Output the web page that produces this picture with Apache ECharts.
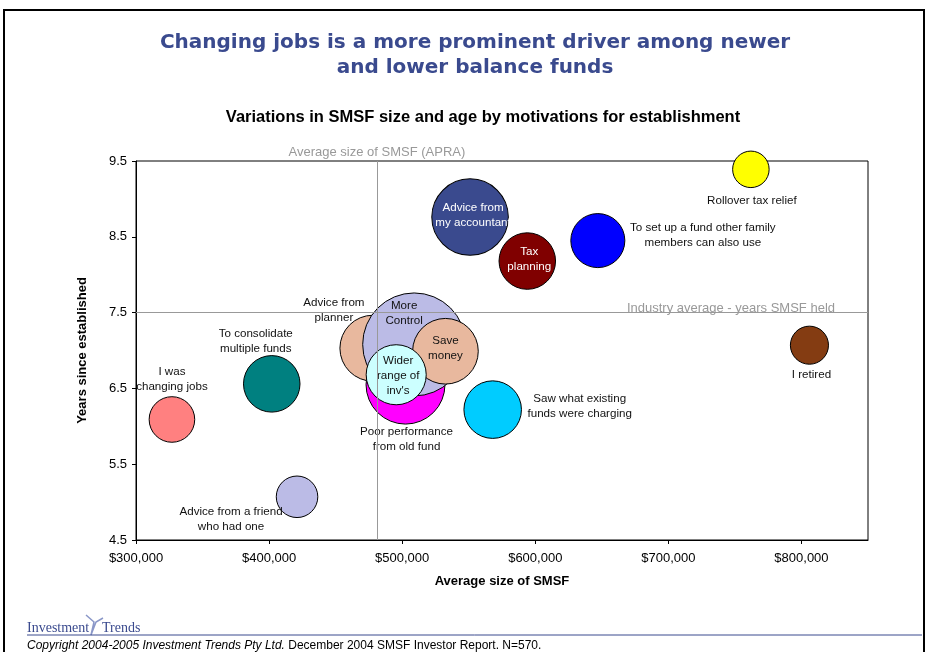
<!DOCTYPE html>
<html>
<head>
<meta charset="utf-8">
<script src="https://cdn.jsdelivr.net/npm/echarts@6/dist/echarts.min.js"></script>
<style>
  html, body { margin: 0; padding: 0; background: #fff; }
  #chart { width: 931px; height: 652px; }
</style>
</head>
<body>
<div id="chart"></div>
<script>
// motivations for establishing the SMSF (drawing order: back to front)
var motivations = [
  'I was\nchanging jobs',
  'To consolidate\nmultiple funds',
  'Advice from a friend\nwho had one',
  'Advice from\nmy accountant',
  'Tax\nplanning',
  'To set up a fund other family\nmembers can also use',
  'Rollover tax relief',
  'I retired',
  'Saw what existing\nfunds were charging',
  'Advice from\nplanner',
  'Poor performance\nfrom old fund',
  'More\nControl',
  'Save\nmoney',
  'Wider\nrange of\ninv\'s'
];
// average SMSF size ($)
var avgSize = [327000, 402000, 421000, 551000, 594000, 647000, 762000, 806000, 568000, 478000, 502500, 509000, 532500, 495500];
// years since established
var yearsHeld = [6.09, 6.56, 5.07, 8.76, 8.18, 8.45, 9.39, 7.07, 6.22, 7.03, 6.55, 7.08, 6.99, 6.68];
// share of respondents (%) -> bubble area
var share = [10.6, 16.3, 8.8, 29.9, 16.3, 14.9, 6.8, 7.4, 16.9, 22.2, 31.8, 54.1, 22.0, 18.4];

var xTicks = { min: 300000, max: 850000, step: 100000 };
var yTicks = { min: 4.5, max: 9.5, step: 1 };
var apraAvgSize = 481000;
var industryAvgYears = 7.5;

// styling
var colors = ['#FF8080', '#008080', '#BBBBE6', '#3A4A8E', '#800000', '#0000FF', '#FFFF00',
              '#843C12', '#00CCFF', '#E8B89E', '#FF00FF', '#BBBBE6', '#E8B89E', '#CCFFFF'];
var labelOffsets = [[0, -40], [-16, -43], [-66, 23], [3, -2], [2, -2], [105, -5], [1, 31],
                    [2, 30], [87, -3], [-39, -38], [1, 55], [-10, -31], [0, -3], [2, 1]];
var whiteLabels = [3, 4];

var data = motivations.map(function (name, i) {
  return {
    name: name,
    value: [avgSize[i], yearsHeld[i], share[i]],
    symbolSize: 14 * Math.sqrt(share[i]),
    itemStyle: { color: colors[i], borderColor: '#000', borderWidth: 1, opacity: 1 },
    label: {
      show: true,
      position: 'inside',
      offset: labelOffsets[i],
      formatter: '{b}',
      color: whiteLabels.indexOf(i) >= 0 ? '#fff' : '#111',
      fontFamily: 'Liberation Sans, Arial',
      fontSize: 11.6,
      lineHeight: 15,
      align: 'center'
    }
  };
});

function money(v) {
  return '$' + v.toLocaleString('en-US');
}

var chart = echarts.init(document.getElementById('chart'));
chart.setOption({
  animation: false,
  title: [{
    text: 'Changing jobs is a more prominent driver among newer\nand lower balance funds',
    left: 470, top: 25, textAlign: 'center',
    textStyle: { color: '#3A4A8E', fontFamily: 'DejaVu Sans', fontWeight: 'bold', fontSize: 20, lineHeight: 25 }
  }, {
    text: 'Variations in SMSF size and age by motivations for establishment',
    left: 478, top: 104, textAlign: 'center',
    textStyle: { color: '#000', fontFamily: 'Liberation Sans, Arial', fontWeight: 'bold', fontSize: 16.5 }
  }],
  grid: { left: 136, right: 63, top: 161, bottom: 112, show: true, borderColor: '#000', borderWidth: 1 },
  xAxis: {
    type: 'value',
    min: xTicks.min, max: xTicks.max, interval: xTicks.step,
    name: 'Average size of SMSF',
    nameLocation: 'middle', nameGap: 35,
    nameTextStyle: { color: '#000', fontFamily: 'Liberation Sans, Arial', fontWeight: 'bold', fontSize: 13 },
    splitLine: { show: false },
    axisLine: { lineStyle: { color: '#000' } },
    axisTick: { show: true, length: 4, lineStyle: { color: '#000' } },
    axisLabel: { color: '#000', fontFamily: 'Liberation Sans, Arial', fontSize: 13, margin: 12,
      showMaxLabel: false, formatter: money }
  },
  yAxis: {
    type: 'value',
    min: yTicks.min, max: yTicks.max, interval: yTicks.step,
    name: 'Years since established',
    nameLocation: 'middle', nameGap: 47, nameRotate: 90,
    nameTextStyle: { color: '#000', fontFamily: 'Liberation Sans, Arial', fontWeight: 'bold', fontSize: 13 },
    splitLine: { show: false },
    axisLine: { show: true, lineStyle: { color: '#000' } },
    axisTick: { show: true, length: 4, lineStyle: { color: '#000' } },
    axisLabel: { color: '#000', fontFamily: 'Liberation Sans, Arial', fontSize: 13, margin: 9,
      formatter: function (v) { return v.toFixed(1); } }
  },
  series: [{
    type: 'scatter',
    data: data,
    emphasis: { disabled: true },
    markLine: {
      silent: true,
      symbol: 'none',
      lineStyle: { color: '#999', type: 'solid', width: 1 },
      label: { color: '#999', fontFamily: 'Liberation Sans, Arial', fontSize: 13 },
      data: [
        { xAxis: apraAvgSize, label: { position: 'end', formatter: 'Average size of SMSF (APRA)', distance: 2 } },
        { yAxis: industryAvgYears, label: { position: 'insideEndTop', formatter: 'Industry average - years SMSF held', distance: [33, -2] } }
      ]
    }
  }],
  graphic: [
    { type: 'rect', shape: { x: 4, y: 10, width: 920, height: 660 },
      style: { fill: 'none', stroke: '#000', lineWidth: 2 } },
    { type: 'text', left: 27, top: 621,
      style: { text: 'Investment', fill: '#3A4A8E', font: '14px "Liberation Serif", serif' } },
    { type: 'text', left: 102, top: 621,
      style: { text: 'Trends', fill: '#3A4A8E', font: '14px "Liberation Serif", serif' } },
    { type: 'polyline', shape: { points: [[86, 615], [94, 622], [91, 635], [96, 622], [103, 618]] },
      style: { fill: 'none', stroke: '#8A97C8', lineWidth: 1.5 } },
    { type: 'line', shape: { x1: 27, y1: 635, x2: 922, y2: 635 },
      style: { stroke: '#3A4A8E', lineWidth: 1 } },
    { type: 'text', left: 27, top: 640,
      style: {
        text: '{i|Copyright 2004-2005 Investment Trends Pty Ltd.} December 2004 SMSF Investor Report. N=570.',
        fill: '#000', font: '12px "Liberation Sans", Arial',
        rich: { i: { fontStyle: 'italic', fontSize: 12, fontFamily: 'Liberation Sans' } }
      } }
  ]
});
</script>
</body>
</html>
